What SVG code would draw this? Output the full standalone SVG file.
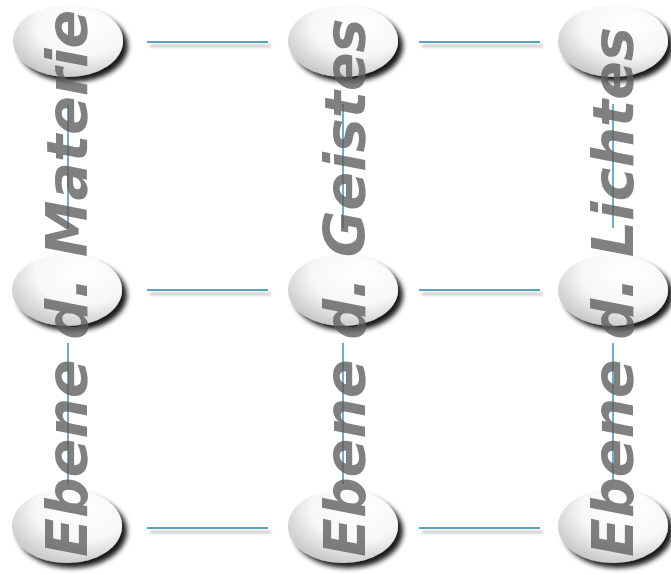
<svg xmlns="http://www.w3.org/2000/svg" width="671" height="575" viewBox="0 0 671 575">
<defs>
<radialGradient id="eg" cx="0.64" cy="0.28" r="0.78">
<stop offset="0" stop-color="#ffffff"/>
<stop offset="0.55" stop-color="#f7f7f7"/>
<stop offset="1" stop-color="#c4c4c4"/>
</radialGradient>
<filter id="sh" x="-30%" y="-30%" width="160%" height="170%">
<feGaussianBlur in="SourceAlpha" stdDeviation="2.6"/>
<feOffset dx="5" dy="5" result="b"/>
<feComponentTransfer in="b" result="c"><feFuncA type="linear" slope="0.9"/></feComponentTransfer>
<feMerge><feMergeNode in="c"/><feMergeNode in="SourceGraphic"/></feMerge>
</filter>
<filter id="lsh" filterUnits="userSpaceOnUse" x="0" y="0" width="671" height="575">
<feGaussianBlur in="SourceAlpha" stdDeviation="1.6"/>
<feOffset dx="3" dy="4" result="b"/>
<feComponentTransfer in="b" result="c"><feFuncA type="linear" slope="0.3"/></feComponentTransfer>
<feMerge><feMergeNode in="c"/><feMergeNode in="SourceGraphic"/></feMerge>
</filter>
</defs>
<style>
.node{fill:url(#eg);filter:url(#sh);}
.h{stroke:#5aa3ba;stroke-width:2.2;fill:none;}
.v{stroke:#4a9ab5;stroke-width:1.6;fill:none;}
.lbl{font-family:"DejaVu Sans","Liberation Sans",sans-serif;font-weight:bold;font-style:italic;font-size:57px;fill:#5c5c5c;fill-opacity:0.78;}
</style>
<g id="n11"><ellipse class="node" cx="68" cy="41" rx="55" ry="36"/></g>
<g id="n12"><ellipse class="node" cx="343" cy="41" rx="55" ry="36"/></g>
<g id="n13"><ellipse class="node" cx="613" cy="41" rx="55" ry="36"/></g>
<g id="n21"><ellipse class="node" cx="67" cy="290" rx="55" ry="36"/></g>
<g id="n22"><ellipse class="node" cx="343" cy="290" rx="55" ry="36"/></g>
<g id="n23"><ellipse class="node" cx="613" cy="290" rx="55" ry="36"/></g>
<g id="n31"><ellipse class="node" cx="67" cy="526" rx="55" ry="37"/></g>
<g id="n32"><ellipse class="node" cx="343" cy="526" rx="55" ry="37"/></g>
<g id="n33"><ellipse class="node" cx="613" cy="526" rx="55" ry="37"/></g>
<g id="connectors">
<g filter="url(#lsh)">
<line class="h" x1="147" y1="42" x2="268" y2="42"/>
<line class="h" x1="419" y1="42" x2="540" y2="42"/>
<line class="h" x1="147" y1="290" x2="268" y2="290"/>
<line class="h" x1="419" y1="290" x2="540" y2="290"/>
<line class="h" x1="147" y1="528" x2="268" y2="528"/>
<line class="h" x1="419" y1="528" x2="540" y2="528"/>
</g>
<line class="v" x1="68" y1="105" x2="68" y2="228"/>
<line class="v" x1="68" y1="343" x2="68" y2="484"/>
<line class="v" x1="343" y1="104" x2="343" y2="228"/>
<line class="v" x1="343" y1="343" x2="343" y2="484"/>
<line class="v" x1="613" y1="104" x2="613" y2="228"/>
<line class="v" x1="613" y1="343" x2="613" y2="480"/>
</g>
<g id="label1"><text class="lbl" transform="translate(87,557) rotate(-90)">Ebene d. Materie</text></g>
<g id="label2"><text class="lbl" transform="translate(365,557) rotate(-90)">Ebene d. Geistes</text></g>
<g id="label3"><text class="lbl" transform="translate(633,557) rotate(-90)">Ebene d. Lichtes</text></g>
</svg>
